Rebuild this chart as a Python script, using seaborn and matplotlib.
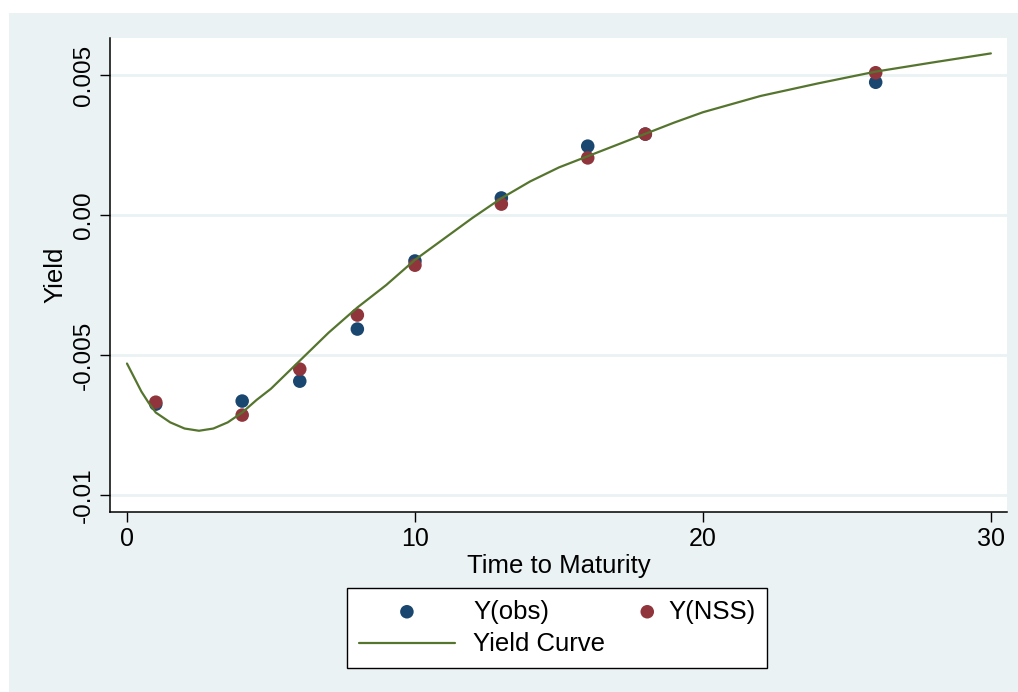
import numpy as np
import pandas as pd
import seaborn as sns
import matplotlib.pyplot as plt
from matplotlib.patches import Rectangle
from matplotlib.legend_handler import HandlerPathCollection

# === dados ===
maturity = [1, 4, 6, 8, 10, 13, 16, 18, 26]
y_obs = [-0.00675, -0.00664, -0.00593, -0.00407, -0.00164, 0.00061, 0.00246, 0.00289, 0.00474]
y_nss = [-0.00668, -0.00714, -0.00550, -0.00357, -0.00179, 0.00039, 0.00204, 0.00289, 0.00508]

curve_t = [0.0, 0.25, 0.5, 0.75, 1.0, 1.5, 2.0, 2.5, 3.0, 3.5, 4.0, 4.5, 5.0, 5.5, 6.0,
           6.5, 7.0, 8.0, 9.0, 10.0, 11.0, 12.0, 13.0, 14.0, 15.0, 16.0, 17.0, 18.0,
           19.0, 20.0, 22.0, 24.0, 26.0, 28.0, 30.0]
curve_y = [-0.0053, -0.0058, -0.0063, -0.0067, -0.00705, -0.0074, -0.00762, -0.0077, -0.00762,
           -0.0074, -0.00705, -0.0066, -0.0062, -0.0057, -0.0052,
           -0.0047, -0.0042, -0.0033, -0.0025, -0.0016, -0.00085, -0.0001, 0.0006, 0.0012,
           0.0017, 0.0021, 0.0025, 0.0029, 0.0033, 0.00367, 0.00425, 0.0047, 0.00512,
           0.00545, 0.00577]

y_ticks = [-0.01, -0.005, 0.0, 0.005]
y_tick_labels = ["-0.01", "-0.005", "0.00", "0.005"]
x_ticks = [0, 10, 20, 30]

df_pts = pd.DataFrame({"t": maturity, "obs": y_obs, "nss": y_nss})
df_curve = pd.DataFrame({"t": curve_t, "y": curve_y})

# === estilo ===
sns.set_theme(style="ticks")
plt.rcParams["font.family"] = ["Liberation Sans", "DejaVu Sans"]
for k in ["text.color", "axes.labelcolor", "xtick.color", "ytick.color"]:
    plt.rcParams[k] = "black"

navy = "#1A476F"
maroon = "#90353B"
green = "#55752F"
bg = "#EAF2F3"


class RightMarker(HandlerPathCollection):
    # marcador encostado no texto (como na legenda do Stata)
    def get_xdata(self, legend, xdescent, ydescent, width, height, fontsize):
        return [-xdescent, -xdescent + width], [-xdescent + width - 2]


fig = plt.figure(figsize=(10.18, 6.92), dpi=100, facecolor="white")
fig.add_artist(Rectangle((9 / 1018, 0), 1, (692 - 13) / 692, transform=fig.transFigure,
                         facecolor=bg, edgecolor="none", zorder=-10))
ax = fig.add_axes([110 / 1018, 1 - 512 / 692, (1007 - 110) / 1018, (512 - 38) / 692])
ax.set_zorder(1)
ax.set_facecolor("white")

for yt in y_ticks:
    ax.axhline(yt, color=bg, lw=2, zorder=0)

sns.scatterplot(data=df_pts, x="t", y="obs", ax=ax, color=navy, s=95, edgecolor="none",
                label="Y(obs)", zorder=3)
sns.scatterplot(data=df_pts, x="t", y="nss", ax=ax, color=maroon, s=95, edgecolor="none",
                label="Y(NSS)", zorder=4)
sns.lineplot(data=df_curve, x="t", y="y", ax=ax, color=green, lw=1.6,
             label="Yield Curve", zorder=5)

ax.set_xlim(-0.59, 30.56)
ax.set_ylim(-0.0106, 0.00632)
ax.set_xticks(x_ticks)
ax.set_xticklabels([str(v) for v in x_ticks], fontsize=18)
ax.set_yticks(y_ticks)
ax.set_yticklabels(y_tick_labels, rotation=90, va="center", fontsize=17.5)
ax.tick_params(axis="both", length=7, width=1, color="black", pad=4)

sns.despine(ax=ax)
for s in ["left", "bottom"]:
    ax.spines[s].set_color("black")
    ax.spines[s].set_linewidth(1.1)

ax.set_xlabel("Time to Maturity", fontsize=18.5, labelpad=2)
ax.set_ylabel("Yield", fontsize=18.5, labelpad=4)

h, l = ax.get_legend_handles_labels()
order = [0, 2, 1]
leg = ax.legend([h[i] for i in order], [l[i] for i in order], ncol=2, loc="center",
                bbox_to_anchor=(557 / 1018, 1 - 628 / 692), bbox_transform=fig.transFigure,
                frameon=True, fancybox=False, edgecolor="black", facecolor="white",
                framealpha=1, fontsize=18.5, handlelength=3.75, columnspacing=-2.0,
                borderpad=0.45, labelspacing=0.35, handletextpad=0.7,
                handler_map={h[1]: RightMarker()})
leg.get_frame().set_linewidth(1.0)

fig.savefig("out.png", dpi=100, facecolor=fig.get_facecolor())
